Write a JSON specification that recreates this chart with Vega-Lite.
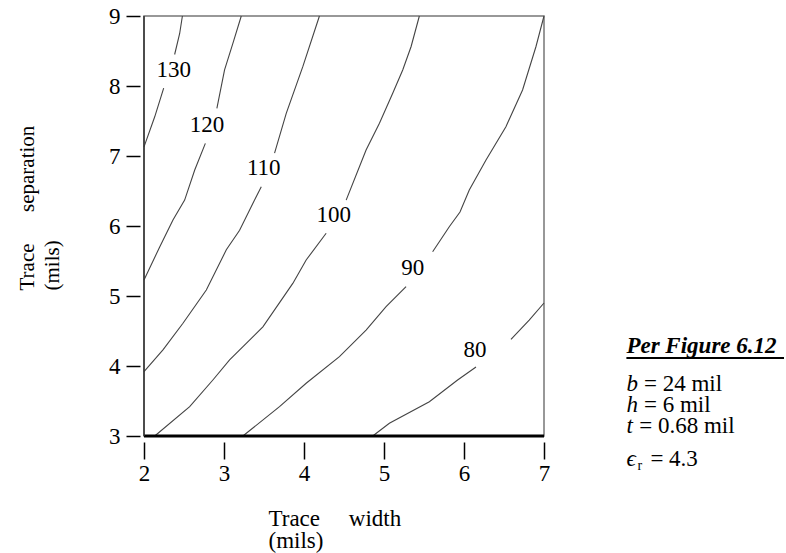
{
  "$schema": "https://vega.github.io/schema/vega-lite/v6.json",
  "width": 400,
  "height": 420,
  "autosize": {"type": "none"},
  "padding": {"left": 144, "top": 16, "right": 242, "bottom": 117},
  "background": "white",
  "config": {"view": {"stroke": "#777", "strokeWidth": 1.5}, "font": "Liberation Serif"},
  "datasets": {
    "contours": [
      {"c": "130a", "x": 2.48, "y": 9.0}, {"c": "130a", "x": 2.446, "y": 8.75}, {"c": "130a", "x": 2.383, "y": 8.45},
      {"c": "130b", "x": 2.246, "y": 7.97}, {"c": "130b", "x": 2.134, "y": 7.56}, {"c": "130b", "x": 2.0, "y": 7.13},
      {"c": "120a", "x": 3.216, "y": 9.0}, {"c": "120a", "x": 3.111, "y": 8.61}, {"c": "120a", "x": 3.007, "y": 8.23}, {"c": "120a", "x": 2.911, "y": 7.68},
      {"c": "120b", "x": 2.767, "y": 7.18}, {"c": "120b", "x": 2.634, "y": 6.8}, {"c": "120b", "x": 2.508, "y": 6.37}, {"c": "120b", "x": 2.362, "y": 6.086}, {"c": "120b", "x": 2.196, "y": 5.7}, {"c": "120b", "x": 2.0, "y": 5.23},
      {"c": "110a", "x": 4.193, "y": 9.0}, {"c": "110a", "x": 3.985, "y": 8.276}, {"c": "110a", "x": 3.778, "y": 7.61}, {"c": "110a", "x": 3.632, "y": 7.04},
      {"c": "110b", "x": 3.466, "y": 6.56}, {"c": "110b", "x": 3.382, "y": 6.37}, {"c": "110b", "x": 3.195, "y": 5.94}, {"c": "110b", "x": 3.029, "y": 5.66}, {"c": "110b", "x": 2.779, "y": 5.086}, {"c": "110b", "x": 2.487, "y": 4.61}, {"c": "110b", "x": 2.237, "y": 4.23}, {"c": "110b", "x": 2.0, "y": 3.92},
      {"c": "100a", "x": 5.442, "y": 9.0}, {"c": "100a", "x": 5.338, "y": 8.561}, {"c": "100a", "x": 5.234, "y": 8.229}, {"c": "100a", "x": 5.109, "y": 7.896}, {"c": "100a", "x": 4.943, "y": 7.467}, {"c": "100a", "x": 4.776, "y": 7.086}, {"c": "100a", "x": 4.527, "y": 6.37},
      {"c": "100b", "x": 4.277, "y": 5.896}, {"c": "100b", "x": 4.027, "y": 5.514}, {"c": "100b", "x": 3.86, "y": 5.18}, {"c": "100b", "x": 3.486, "y": 4.56}, {"c": "100b", "x": 3.07, "y": 4.086}, {"c": "100b", "x": 2.861, "y": 3.8}, {"c": "100b", "x": 2.571, "y": 3.419}, {"c": "100b", "x": 2.134, "y": 3.0},
      {"c": "90a", "x": 7.0, "y": 9.0}, {"c": "90a", "x": 6.899, "y": 8.561}, {"c": "90a", "x": 6.732, "y": 7.943}, {"c": "90a", "x": 6.524, "y": 7.419}, {"c": "90a", "x": 6.275, "y": 6.943}, {"c": "90a", "x": 6.066, "y": 6.514}, {"c": "90a", "x": 5.95, "y": 6.2}, {"c": "90a", "x": 5.816, "y": 5.99}, {"c": "90a", "x": 5.608, "y": 5.633},
      {"c": "90b", "x": 5.276, "y": 5.133}, {"c": "90b", "x": 5.026, "y": 4.847}, {"c": "90b", "x": 4.776, "y": 4.514}, {"c": "90b", "x": 4.443, "y": 4.133}, {"c": "90b", "x": 4.027, "y": 3.753}, {"c": "90b", "x": 3.694, "y": 3.419}, {"c": "90b", "x": 3.236, "y": 3.0},
      {"c": "80a", "x": 7.0, "y": 4.9}, {"c": "80a", "x": 6.815, "y": 4.657}, {"c": "80a", "x": 6.587, "y": 4.381},
      {"c": "80b", "x": 6.15, "y": 3.986}, {"c": "80b", "x": 5.92, "y": 3.8}, {"c": "80b", "x": 5.567, "y": 3.49}, {"c": "80b", "x": 5.067, "y": 3.181}, {"c": "80b", "x": 4.859, "y": 3.0}
    ],
    "labels": [
      {"label": "130", "x": 2.371, "y": 8.229},
      {"label": "120", "x": 2.789, "y": 7.443},
      {"label": "110", "x": 3.497, "y": 6.824},
      {"label": "100", "x": 4.371, "y": 6.157},
      {"label": "90", "x": 5.358, "y": 5.396},
      {"label": "80", "x": 6.139, "y": 4.229}
    ],
    "noteTitle": [{"text": "Per Figure 6.12", "x": 8.03, "y": 4.186}],
    "noteUnderline": [{"x": 8.03, "x2": 10.0, "y": 4.114}],
    "noteSymbols": [
      {"text": "b", "x": 8.03, "y": 3.643},
      {"text": "h", "x": 8.03, "y": 3.343},
      {"text": "t", "x": 8.03, "y": 3.043},
      {"text": "ϵ", "x": 8.03, "y": 2.571}
    ],
    "noteRest": [
      {"text": "= 24 mil", "x": 8.25, "y": 3.643},
      {"text": "= 6 mil", "x": 8.25, "y": 3.343},
      {"text": "= 0.68 mil", "x": 8.19, "y": 3.043},
      {"text": "= 4.3", "x": 8.33, "y": 2.571}
    ],
    "noteSub": [{"text": "r", "x": 8.17, "y": 2.514}],
    "frameBottom": [{"x": 2, "x2": 7, "y": 3}],
    "frameLeft": [{"x": 2, "y": 3, "y2": 9}]
  },
  "layer": [
    {
      "data": {"name": "contours"},
      "mark": {"type": "line", "color": "#444", "strokeWidth": 1.1},
      "encoding": {
        "x": {
          "field": "x", "type": "quantitative",
          "scale": {"domain": [2, 7], "nice": false, "zero": false},
          "axis": {
            "values": [2, 3, 4, 5, 6, 7], "format": "d", "domain": false, "grid": false, "offset": 6,
            "tickSize": 17, "tickWidth": 1.5, "tickColor": "black",
            "labelFont": "Liberation Serif", "labelFontSize": 23, "labelColor": "black",
            "labelPadding": 3, "labelDx": 3, "labelFlush": false, "labelOverlap": false,
            "title": ["Trace\u00a0\u00a0\u00a0\u00a0\u00a0width", "(mils)"],
            "titleFont": "Liberation Serif", "titleFontSize": 23, "titleFontWeight": "normal", "titleColor": "black",
            "titleAlign": "left", "titleAnchor": "start", "titleX": 124, "titleY": 83,
            "titleBaseline": "alphabetic", "titleLineHeight": 22
          }
        },
        "y": {
          "field": "y", "type": "quantitative",
          "scale": {"domain": [3, 9], "nice": false, "zero": false},
          "axis": {
            "values": [3, 4, 5, 6, 7, 8, 9], "format": "d", "domain": false, "grid": false, "offset": 4,
            "tickSize": 14, "tickWidth": 1.5, "tickColor": "black",
            "labelFont": "Liberation Serif", "labelFontSize": 23, "labelColor": "black",
            "labelPadding": 6, "labelFlush": false, "labelOverlap": false,
            "title": ["Trace\u00a0\u00a0\u00a0\u00a0\u00a0\u00a0separation", "(mils)"],
            "titleFont": "Liberation Serif", "titleFontSize": 21, "titleFontWeight": "normal", "titleColor": "black",
            "titleAngle": 270, "titleAlign": "left", "titleAnchor": "start", "titleX": -107, "titleY": 274,
            "titleBaseline": "alphabetic", "titleLineHeight": 25
          }
        },
        "detail": {"field": "c", "type": "nominal"}
      }
    },
    {
      "data": {"name": "labels"},
      "mark": {"type": "text", "font": "Liberation Serif", "fontSize": 23, "color": "black", "align": "center", "baseline": "middle"},
      "encoding": {
        "x": {"field": "x", "type": "quantitative"},
        "y": {"field": "y", "type": "quantitative"},
        "text": {"field": "label", "type": "nominal"}
      }
    },
    {
      "data": {"name": "frameBottom"},
      "mark": {"type": "rule", "color": "black", "strokeWidth": 3},
      "encoding": {
        "x": {"field": "x", "type": "quantitative"},
        "x2": {"field": "x2"},
        "y": {"field": "y", "type": "quantitative"}
      }
    },
    {
      "data": {"name": "frameLeft"},
      "mark": {"type": "rule", "color": "#333", "strokeWidth": 1.5},
      "encoding": {
        "x": {"field": "x", "type": "quantitative"},
        "y": {"field": "y", "type": "quantitative"},
        "y2": {"field": "y2"}
      }
    },
    {
      "data": {"name": "noteTitle"},
      "mark": {"type": "text", "font": "Liberation Serif", "fontSize": 23, "fontStyle": "italic", "fontWeight": "bold", "color": "black", "align": "left", "baseline": "alphabetic"},
      "encoding": {
        "x": {"field": "x", "type": "quantitative"},
        "y": {"field": "y", "type": "quantitative"},
        "text": {"field": "text", "type": "nominal"}
      }
    },
    {
      "data": {"name": "noteUnderline"},
      "mark": {"type": "rule", "color": "black", "strokeWidth": 2},
      "encoding": {
        "x": {"field": "x", "type": "quantitative"},
        "x2": {"field": "x2"},
        "y": {"field": "y", "type": "quantitative"}
      }
    },
    {
      "data": {"name": "noteSymbols"},
      "mark": {"type": "text", "font": "Liberation Serif", "fontSize": 23, "fontStyle": "italic", "color": "black", "align": "left", "baseline": "alphabetic"},
      "encoding": {
        "x": {"field": "x", "type": "quantitative"},
        "y": {"field": "y", "type": "quantitative"},
        "text": {"field": "text", "type": "nominal"}
      }
    },
    {
      "data": {"name": "noteRest"},
      "mark": {"type": "text", "font": "Liberation Serif", "fontSize": 23, "color": "black", "align": "left", "baseline": "alphabetic"},
      "encoding": {
        "x": {"field": "x", "type": "quantitative"},
        "y": {"field": "y", "type": "quantitative"},
        "text": {"field": "text", "type": "nominal"}
      }
    },
    {
      "data": {"name": "noteSub"},
      "mark": {"type": "text", "font": "Liberation Serif", "fontSize": 14, "color": "black", "align": "left", "baseline": "alphabetic"},
      "encoding": {
        "x": {"field": "x", "type": "quantitative"},
        "y": {"field": "y", "type": "quantitative"},
        "text": {"field": "text", "type": "nominal"}
      }
    }
  ]
}
